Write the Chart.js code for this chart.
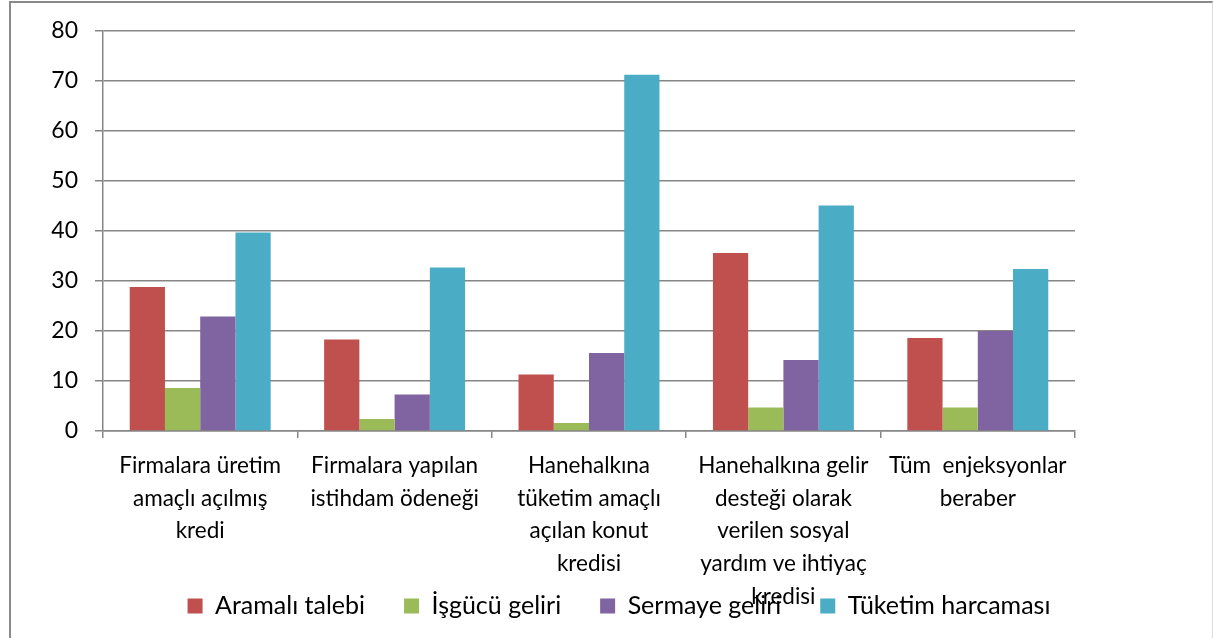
<!DOCTYPE html>
<html lang="tr">
<head>
<meta charset="utf-8">
<title>Enjeksiyon etkileri</title>
<script src="https://cdn.jsdelivr.net/npm/chart.js@4.4.1/dist/chart.umd.min.js"></script>
<style>
  html, body { margin: 0; padding: 0; background: #fff; overflow: hidden; }
  #frame {
    position: absolute; left: 9px; top: 1px; width: 1201px; height: 700px;
    border-left: 2px solid #8a8a8a; border-top: 2px solid #8a8a8a; border-right: 1px solid #dcdcdc;
  }
  #wrap { position: absolute; left: 0; top: 0; width: 1213px; height: 638px; }
</style>
</head>
<body>
<div id="frame"></div>
<div id="wrap"><canvas id="chart"></canvas></div>
<script>
// --- Data ---
const categories = [
  ["Firmalara üretim", "amaçlı açılmış", "kredi"],
  ["Firmalara yapılan", "istihdam ödeneği"],
  ["Hanehalkına", "tüketim amaçlı", "açılan konut", "kredisi"],
  ["Hanehalkına gelir", "desteği olarak", "verilen sosyal", "yardım ve ihtiyaç", "kredisi"],
  ["Tüm  enjeksyonlar", "beraber"],
];
const aramaliTalebi = [28.8, 18.3, 11.3, 35.6, 18.6];
const isgucuGeliri = [8.6, 2.4, 1.6, 4.7, 4.7];
const sermayeGeliri = [22.9, 7.3, 15.6, 14.2, 20.0];
const tuketimHarcamasi = [39.7, 32.7, 71.2, 45.1, 32.4];
const yTicks = [0, 10, 20, 30, 40, 50, 60, 70, 80];

const FONT = "Lato, 'Open Sans', sans-serif";
const GRID = "#868686";
const legendCenterX = 619;
const legendCenterY = 606;

// the legend is placed by hand: centred under the frame, and allowed
// to run into the long category labels above it
const legendPlace = {
  id: "legendPlace",
  afterLayout(chart) {
    const lg = chart.legend;
    if (!lg) return;
    const lab = lg.options.labels;
    const itemH = Math.max(lab.font.size, lab.boxHeight);
    const dx = legendCenterX - (lg.left + lg.right) / 2;
    lg.left += dx;
    lg.right += dx;
    lg.height = itemH + lab.padding + 10;
    lg.top = legendCenterY - lab.padding - itemH / 2;
    lg.bottom = lg.top + lg.height;
  },
};

const ctx = document.getElementById("chart").getContext("2d");
new Chart(ctx, {
  type: "bar",
  data: {
    labels: categories,
    datasets: [
      { label: "Aramalı talebi", data: aramaliTalebi, backgroundColor: "#C0504D" },
      { label: "İşgücü geliri", data: isgucuGeliri, backgroundColor: "#9BBB59" },
      { label: "Sermaye geliri", data: sermayeGeliri, backgroundColor: "#8064A2" },
      { label: "Tüketim harcaması", data: tuketimHarcamasi, backgroundColor: "#4BACC6" },
    ],
  },
  options: {
    responsive: true,
    maintainAspectRatio: false,
    animation: false,
    layout: { padding: { left: 12, right: 138, top: 26, bottom: 0 } },
    datasets: { bar: { categoryPercentage: 0.725, barPercentage: 1.0 } },
    plugins: {
      tooltip: { enabled: false },
      legend: {
        position: "bottom",
        maxHeight: 20,
        labels: {
          boxWidth: 15,
          boxHeight: 15,
          padding: 39,
          color: "#000",
          font: { family: FONT, size: 25 },
        },
      },
    },
    scales: {
      x: {
        grid: { offset: true, drawOnChartArea: false, tickLength: 7, color: GRID, lineWidth: 1.5 },
        border: { color: GRID, width: 1.5 },
        ticks: {
          color: "#000",
          font: { family: FONT, size: 22.5, lineHeight: 1.46 },
          padding: 11,
          maxRotation: 0,
          autoSkip: false,
        },
        afterFit(scale) { scale.height = 187; },
      },
      y: {
        min: 0,
        max: 80,
        afterBuildTicks(scale) { scale.ticks = yTicks.map((v) => ({ value: v })); },
        grid: { color: GRID, tickLength: 8, lineWidth: 1.5 },
        border: { color: GRID, width: 1.5 },
        ticks: {
          color: "#000",
          font: { family: FONT, size: 23 },
          padding: 17,
        },
        afterFit(scale) { scale.width = 91; },
      },
    },
  },
  plugins: [legendPlace],
});
</script>
</body>
</html>
